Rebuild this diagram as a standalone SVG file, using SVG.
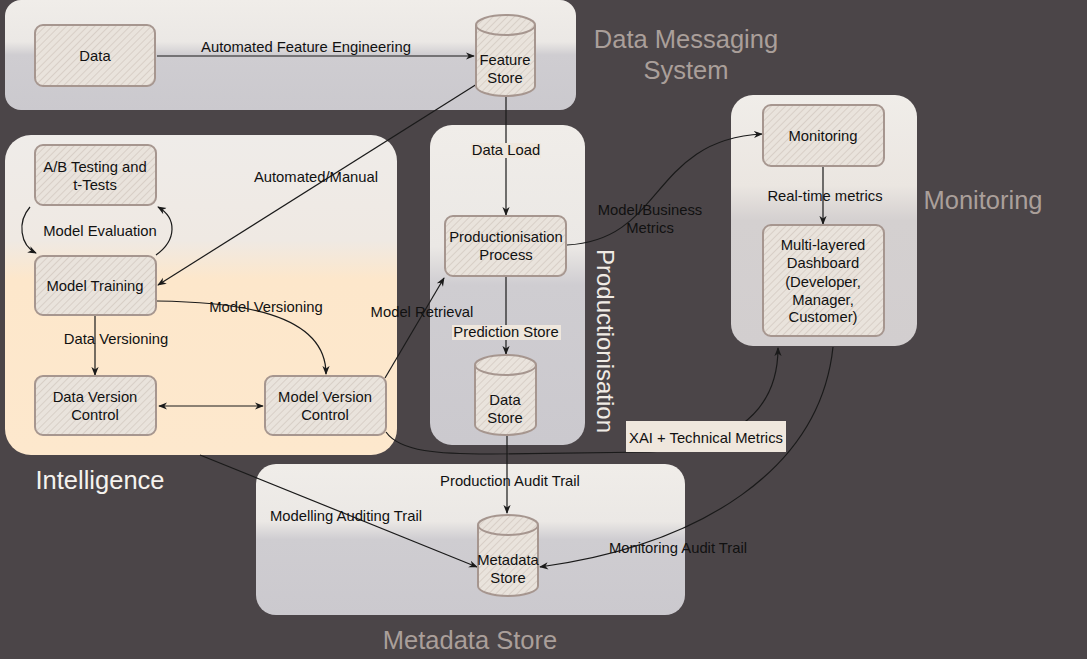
<svg xmlns="http://www.w3.org/2000/svg" width="1087" height="659" viewBox="0 0 1087 659">
<defs>
<style>
.t{font-family:"Liberation Sans",Arial,sans-serif;font-size:14.8px;fill:#111;text-anchor:middle}
.title{font-family:"Liberation Sans",Arial,sans-serif;font-size:25.5px;fill:#aa9f9a;text-anchor:middle}
.node{fill:url(#hatch);stroke:#a6968f;stroke-width:2}
.edge{fill:none;stroke:#1a1a1a;stroke-width:1.2}
.lbg{fill:#efe7dd}
</style>
<pattern id="hatch" patternUnits="userSpaceOnUse" width="5" height="5" patternTransform="rotate(45)">
<rect width="5" height="5" fill="#e9e3dc"/>
<line x1="0" y1="0" x2="0" y2="5" stroke="#d3c9c1" stroke-width="1.5"/>
</pattern>
<linearGradient id="gGray" x1="0" y1="0" x2="0" y2="1">
<stop offset="0" stop-color="#f0ede9"/>
<stop offset="0.38" stop-color="#ebe8e5"/>
<stop offset="0.5" stop-color="#cfcdd1"/>
<stop offset="1" stop-color="#cbc9ce"/>
</linearGradient>
<linearGradient id="gPeach" x1="0" y1="0" x2="0" y2="1">
<stop offset="0" stop-color="#efece9"/>
<stop offset="0.33" stop-color="#efe9e3"/>
<stop offset="0.45" stop-color="#fde7cb"/>
<stop offset="1" stop-color="#fde8cd"/>
</linearGradient>
<linearGradient id="gMon" x1="0" y1="0" x2="0" y2="1">
<stop offset="0" stop-color="#f0ede9"/>
<stop offset="0.36" stop-color="#ebe6e1"/>
<stop offset="0.5" stop-color="#d4d0d0"/>
<stop offset="1" stop-color="#d2cecf"/>
</linearGradient>
<marker id="arr" viewBox="0 0 10 10" refX="9" refY="5" markerWidth="9" markerHeight="9" markerUnits="userSpaceOnUse" orient="auto-start-reverse">
<path d="M0,1 L10,5 L0,9 L3,5 z" fill="#1a1a1a"/>
</marker>
</defs>
<rect width="1087" height="659" fill="#4b4548"/>

<g id="containers">
<g id="c-messaging"><rect x="5" y="0" width="571" height="110" rx="16" fill="url(#gGray)"/>
<text class="title" x="686" y="48">Data Messaging</text><text class="title" x="686" y="79">System</text></g>
<g id="c-intelligence"><rect x="5" y="135" width="392" height="320" rx="26" fill="url(#gPeach)"/>
<text class="title" x="100" y="489" style="fill:#f5f2ee">Intelligence</text></g>
<g id="c-production"><rect x="430" y="125" width="155" height="320" rx="22" fill="url(#gGray)"/>
<text class="title" transform="translate(597,341) rotate(90)" style="fill:#f0ebe5;font-size:24px">Productionisation</text></g>
<g id="c-monitoring"><rect x="731" y="95" width="186" height="251" rx="22" fill="url(#gMon)"/>
<text class="title" x="983" y="209">Monitoring</text></g>
<g id="c-metadata"><rect x="256" y="464" width="429" height="151" rx="20" fill="url(#gGray)"/>
<text class="title" x="470" y="649">Metadata Store</text></g>
</g>

<g id="connectors">
<path class="edge" d="M157,56 L474,56" marker-end="url(#arr)"/>
<path class="edge" d="M477,84 L158,285" marker-end="url(#arr)"/>
<path class="edge" d="M506,96 L506,215" marker-end="url(#arr)"/>
<path class="edge" d="M506,277 L506,354" marker-end="url(#arr)"/>
<path class="edge" d="M30,207 C17,222 20,245 36,253" marker-end="url(#arr)"/>
<path class="edge" d="M156,255 C177,240 177,218 158,207" marker-end="url(#arr)"/>
<path class="edge" d="M95,316 L95,375" marker-end="url(#arr)"/>
<path class="edge" d="M157,301 C235,302 326,312 326,374" marker-end="url(#arr)"/>
<path class="edge" d="M159,406 L263,406" marker-start="url(#arr)" marker-end="url(#arr)"/>
<path class="edge" d="M385,378 L444,278" marker-end="url(#arr)"/>
<path class="edge" d="M567,245 C665,240 650,140 762,134" marker-end="url(#arr)"/>
<path class="edge" d="M823,167 L823,224" marker-end="url(#arr)"/>
<path class="edge" d="M386,432 C400,452 440,454 490,454 L650,452 C720,448 778,420 778,348" marker-end="url(#arr)"/>
<path class="edge" d="M507,436 L507,513" marker-end="url(#arr)"/>
<path class="edge" d="M200,455 L477,567" marker-end="url(#arr)"/>
<path class="edge" d="M833,347 C820,470 700,545 540,567" marker-end="url(#arr)"/>
</g>

<g id="n-data"><rect class="node" x="35" y="25" width="120" height="61" rx="8"/><text class="t" x="95" y="61">Data</text></g>
<g id="n-feature-store"><path class="node" d="M476,25 A29.5,10 0 0 1 535,25 L535,86 A29.5,10 0 0 1 476,86 Z"/><path d="M476,25 A29.5,10 0 0 0 535,25" fill="none" stroke="#a6968f" stroke-width="2"/><text class="t" x="505" y="65">Feature</text><text class="t" x="505" y="83">Store</text></g>
<g id="n-ab"><rect class="node" x="35" y="145" width="121" height="60" rx="8"/><text class="t" x="95" y="172">A/B Testing and</text><text class="t" x="95" y="190">t-Tests</text></g>
<g id="n-training"><rect class="node" x="35" y="256" width="121" height="59" rx="8"/><text class="t" x="95" y="291">Model Training</text></g>
<g id="n-dvc"><rect class="node" x="35" y="376" width="121" height="59" rx="8"/><text class="t" x="95" y="402">Data Version</text><text class="t" x="95" y="420">Control</text></g>
<g id="n-mvc"><rect class="node" x="265" y="376" width="121" height="59" rx="8"/><text class="t" x="325" y="402">Model Version</text><text class="t" x="325" y="420">Control</text></g>
<g id="n-process"><rect class="node" x="445" y="216" width="121" height="60" rx="8"/><text class="t" x="506" y="242">Productionisation</text><text class="t" x="506" y="260">Process</text></g>
<g id="n-data-store"><path class="node" d="M475,365 A30.5,10 0 0 1 536,365 L536,425 A30.5,10 0 0 1 475,425 Z"/><path d="M475,365 A30.5,10 0 0 0 536,365" fill="none" stroke="#a6968f" stroke-width="2"/><text class="t" x="505" y="405">Data</text><text class="t" x="505" y="423">Store</text></g>
<g id="n-monitoring"><rect class="node" x="763" y="105" width="121" height="61" rx="8"/><text class="t" x="823" y="141">Monitoring</text></g>
<g id="n-dashboard"><rect class="node" x="763" y="225" width="121" height="111" rx="8"/><text class="t" x="823" y="250">Multi-layered</text><text class="t" x="823" y="268">Dashboard</text><text class="t" x="823" y="287">(Developer,</text><text class="t" x="823" y="305">Manager,</text><text class="t" x="823" y="322">Customer)</text></g>
<g id="n-metadata"><path class="node" d="M478,525 A30,10 0 0 1 538,525 L538,586 A30,10 0 0 1 478,586 Z"/><path d="M478,525 A30,10 0 0 0 538,525" fill="none" stroke="#a6968f" stroke-width="2"/><text class="t" x="508" y="565">Metadata</text><text class="t" x="508" y="583">Store</text></g>

<g id="labels">
<text class="t" x="306" y="52">Automated Feature Engineering</text>
<text class="t" x="316" y="182">Automated/Manual</text>
<text class="t" x="100" y="236">Model Evaluation</text>
<text class="t" x="266" y="312">Model Versioning</text>
<text class="t" x="116" y="344">Data Versioning</text>
<text class="t" x="422" y="317">Model Retrieval</text>
<rect class="lbg" x="471" y="143" width="70" height="15"/>
<text class="t" x="506" y="155">Data Load</text>
<rect class="lbg" x="452" y="325" width="109" height="15"/>
<text class="t" x="506" y="337">Prediction Store</text>
<text class="t" x="650" y="215">Model/Business</text>
<text class="t" x="650" y="233">Metrics</text>
<text class="t" x="825" y="201">Real-time metrics</text>
<rect class="lbg" x="626" y="421" width="160" height="31"/>
<text class="t" x="706" y="443">XAI + Technical Metrics</text>
<text class="t" x="510" y="486">Production Audit Trail</text>
<text class="t" x="346" y="521">Modelling Auditing Trail</text>
<text class="t" x="678" y="553">Monitoring Audit Trail</text>
</g>
</svg>
